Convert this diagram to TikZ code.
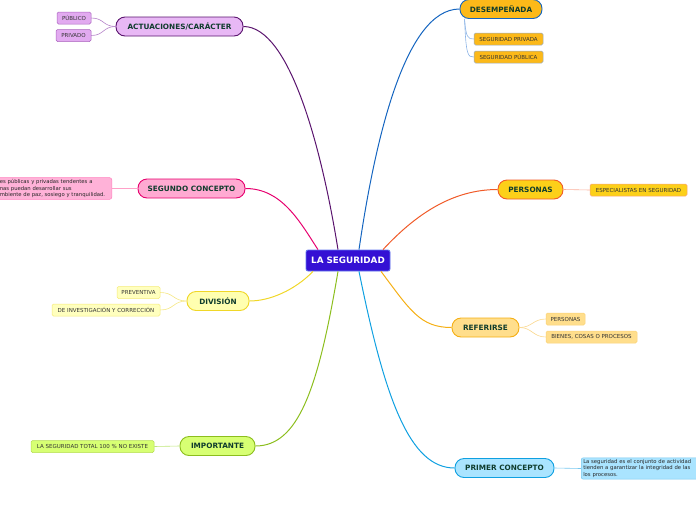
\documentclass[tikz,border=0pt]{standalone}
\usepackage{fontspec}
\setmainfont{DejaVu Sans}
\begin{document}
\begin{tikzpicture}[x=1pt,y=-1pt,
  branch/.style={draw, line width=0.9pt, rounded corners=9pt, minimum height=19pt, inner sep=1pt, font=\fontsize{7.3}{8}\selectfont\bfseries, text=txt},
  leaf/.style={draw, line width=0.5pt, rounded corners=1.5pt, minimum height=12pt, inner sep=1pt, font=\fontsize{5.5}{6}\selectfont, text=black!80},
  para/.style={draw, line width=0.5pt, rounded corners=2pt, inner xsep=2pt, inner ysep=2pt, align=left, font=\fontsize{5.3}{6.1}\selectfont, text=black!85},
  main/.style={line width=1pt},
  sub/.style={line width=0.6pt}]
\definecolor{txt}{RGB}{15,60,45}
\definecolor{cfill}{RGB}{52,16,212}\definecolor{cdraw}{RGB}{100,120,240}
\definecolor{desF}{RGB}{252,185,25}\definecolor{desD}{RGB}{21,101,192}\definecolor{desL}{RGB}{150,170,195}\definecolor{desC}{RGB}{140,180,230}
\definecolor{actF}{RGB}{232,184,245}\definecolor{actD}{RGB}{90,20,110}\definecolor{actLF}{RGB}{226,170,240}\definecolor{actL}{RGB}{170,100,190}\definecolor{actC}{RGB}{180,130,200}
\definecolor{segF}{RGB}{255,170,210}\definecolor{segD}{RGB}{230,0,110}\definecolor{segLF}{RGB}{255,178,216}\definecolor{segL}{RGB}{255,130,190}\definecolor{segC}{RGB}{255,160,200}
\definecolor{perF}{RGB}{252,208,25}\definecolor{perD}{RGB}{240,90,40}\definecolor{perL}{RGB}{250,160,120}\definecolor{perC}{RGB}{250,175,155}
\definecolor{divF}{RGB}{255,255,176}\definecolor{divD}{RGB}{240,215,40}\definecolor{divLF}{RGB}{255,255,190}\definecolor{divL}{RGB}{245,235,120}\definecolor{divC}{RGB}{245,230,130}
\definecolor{refF}{RGB}{255,222,140}\definecolor{refD}{RGB}{245,175,20}\definecolor{refL}{RGB}{250,210,120}\definecolor{refC}{RGB}{250,215,140}
\definecolor{impF}{RGB}{215,255,115}\definecolor{impD}{RGB}{140,190,30}\definecolor{impL}{RGB}{180,220,80}\definecolor{impC}{RGB}{190,230,120}
\definecolor{pcF}{RGB}{170,228,255}\definecolor{pcD}{RGB}{15,160,225}\definecolor{pcL}{RGB}{120,200,240}\definecolor{pcC}{RGB}{120,200,240}
\useasboundingbox (0,0) rectangle (696,520);
\clip (0,0) rectangle (696,520);

% central
\node[draw=cdraw, fill=cfill, line width=0.8pt, rounded corners=2pt, minimum width=84pt, minimum height=21pt, inner sep=1pt, text=white, font=\fontsize{8.8}{9}\selectfont\bfseries] (c) at (348,260.5) {LA SEGURIDAD};

% branches
\node[branch, fill=desF, draw=desD, minimum width=82pt] (des) at (501,9) {DESEMPEÑADA};
\node[branch, fill=actF, draw=actD, minimum width=127pt] (act) at (179.5,26.5) {ACTUACIONES/CARÁCTER};
\node[branch, fill=segF, draw=segD, minimum width=107pt] (seg) at (191.5,188.5) {SEGUNDO CONCEPTO};
\node[branch, fill=perF, draw=perD, minimum width=65pt] (per) at (530.5,189.5) {PERSONAS};
\node[branch, fill=divF, draw=divD, minimum width=62pt] (div) at (218,301) {DIVISIÓN};
\node[branch, fill=refF, draw=refD, minimum width=67pt] (ref) at (485.5,327.5) {REFERIRSE};
\node[branch, fill=impF, draw=impD, minimum width=75pt] (imp) at (217.5,446) {IMPORTANTE};
\node[branch, fill=pcF, draw=pcD, minimum width=99pt] (pc) at (504.5,468) {PRIMER CONCEPTO};

% leaves
\node[leaf, fill=desF, draw=desL, minimum width=69pt] (spr) at (508.5,39) {SEGURIDAD PRIVADA};
\node[leaf, fill=desF, draw=desL, minimum width=69pt] (spu) at (508.5,57) {SEGURIDAD PÚBLICA};
\node[leaf, fill=actLF, draw=actL, minimum width=34pt] (pub) at (74,18) {PÚBLICO};
\node[leaf, fill=actLF, draw=actL, minimum width=35pt] (pri) at (73.5,35.5) {PRIVADO};
\node[para, fill=segLF, draw=segL, anchor=east, text width=110pt] (segt) at (112,188.5) {es públicas y privadas tendentes a\\nas puedan desarrollar sus\\mbiente de paz, sosiego y tranquilidad.};
\node[leaf, fill=perF, draw=perL, minimum width=97pt] (esp) at (638.5,190) {ESPECIALISTAS EN SEGURIDAD};
\node[leaf, fill=divLF, draw=divL, minimum width=43pt] (pre) at (138.5,292.5) {PREVENTIVA};
\node[leaf, fill=divLF, draw=divL, minimum width=108pt] (inv) at (106,310) {DE INVESTIGACIÓN Y CORRECCIÓN};
\node[leaf, fill=refF, draw=refL, minimum width=39pt] (rper) at (565.5,319) {PERSONAS};
\node[leaf, fill=refF, draw=refL, minimum width=91pt] (bie) at (591.5,337) {BIENES, COSAS O PROCESOS};
\node[leaf, fill=impF, draw=impL, minimum width=123pt] (tot) at (92.5,446.5) {LA SEGURIDAD TOTAL 100 \% NO EXISTE};
\node[para, fill=pcF, draw=pcL, anchor=west, text width=118pt] (pct) at (581,468.5) {La seguridad es el conjunto de actividad\\tienden a garantizar la integridad de las\\los procesos.};

% main connectors
\draw[main, desD] ([xshift=11pt]c.north) .. controls (375,140) and (405,9) .. (des.west);
\draw[main, actD] ([xshift=-10pt]c.north) .. controls (322,150) and (290,26.5) .. (act.east);
\draw[main, segD] ([xshift=-30pt]c.north) .. controls (300,222) and (282,188.5) .. (seg.east);
\draw[main, perD] ([xshift=35pt]c.north) .. controls (415,215) and (452,189.5) .. (per.west);
\draw[main, divD] ([xshift=-35pt]c.south) .. controls (295,290) and (270,301) .. (div.east);
\draw[main, refD] ([xshift=33pt]c.south) .. controls (410,310) and (420,327.5) .. (ref.west);
\draw[main, impD] ([xshift=-10pt]c.south) .. controls (318,390) and (298,446) .. (imp.east);
\draw[main, pcD] ([xshift=11pt]c.south) .. controls (385,400) and (410,468) .. (pc.west);

% sub connectors
\draw[sub, desC] ([xshift=5pt]des.south west) .. controls (466,38) and (468,39) .. (spr.west);
\draw[sub, desC] ([xshift=5pt]des.south west) .. controls (466,56) and (468,57) .. (spu.west);
\draw[sub, actC] (act.west) .. controls (103,26.5) and (104,18) .. (pub.east);
\draw[sub, actC] (act.west) .. controls (103,26.5) and (104,35.5) .. (pri.east);
\draw[sub, segC] (seg.west) -- (segt.east);
\draw[sub, perC] (per.east) -- (esp.west);
\draw[sub, divC] (div.west) .. controls (173,301) and (174,292.5) .. (pre.east);
\draw[sub, divC] (div.west) .. controls (173,301) and (174,310) .. (inv.east);
\draw[sub, refC] (ref.east) .. controls (532,327.5) and (533,319) .. (rper.west);
\draw[sub, refC] (ref.east) .. controls (532,327.5) and (533,337) .. (bie.west);
\draw[sub, impC] (imp.west) -- (tot.east);
\draw[sub, pcC] (pc.east) -- (pct.west);
\end{tikzpicture}
\end{document}
